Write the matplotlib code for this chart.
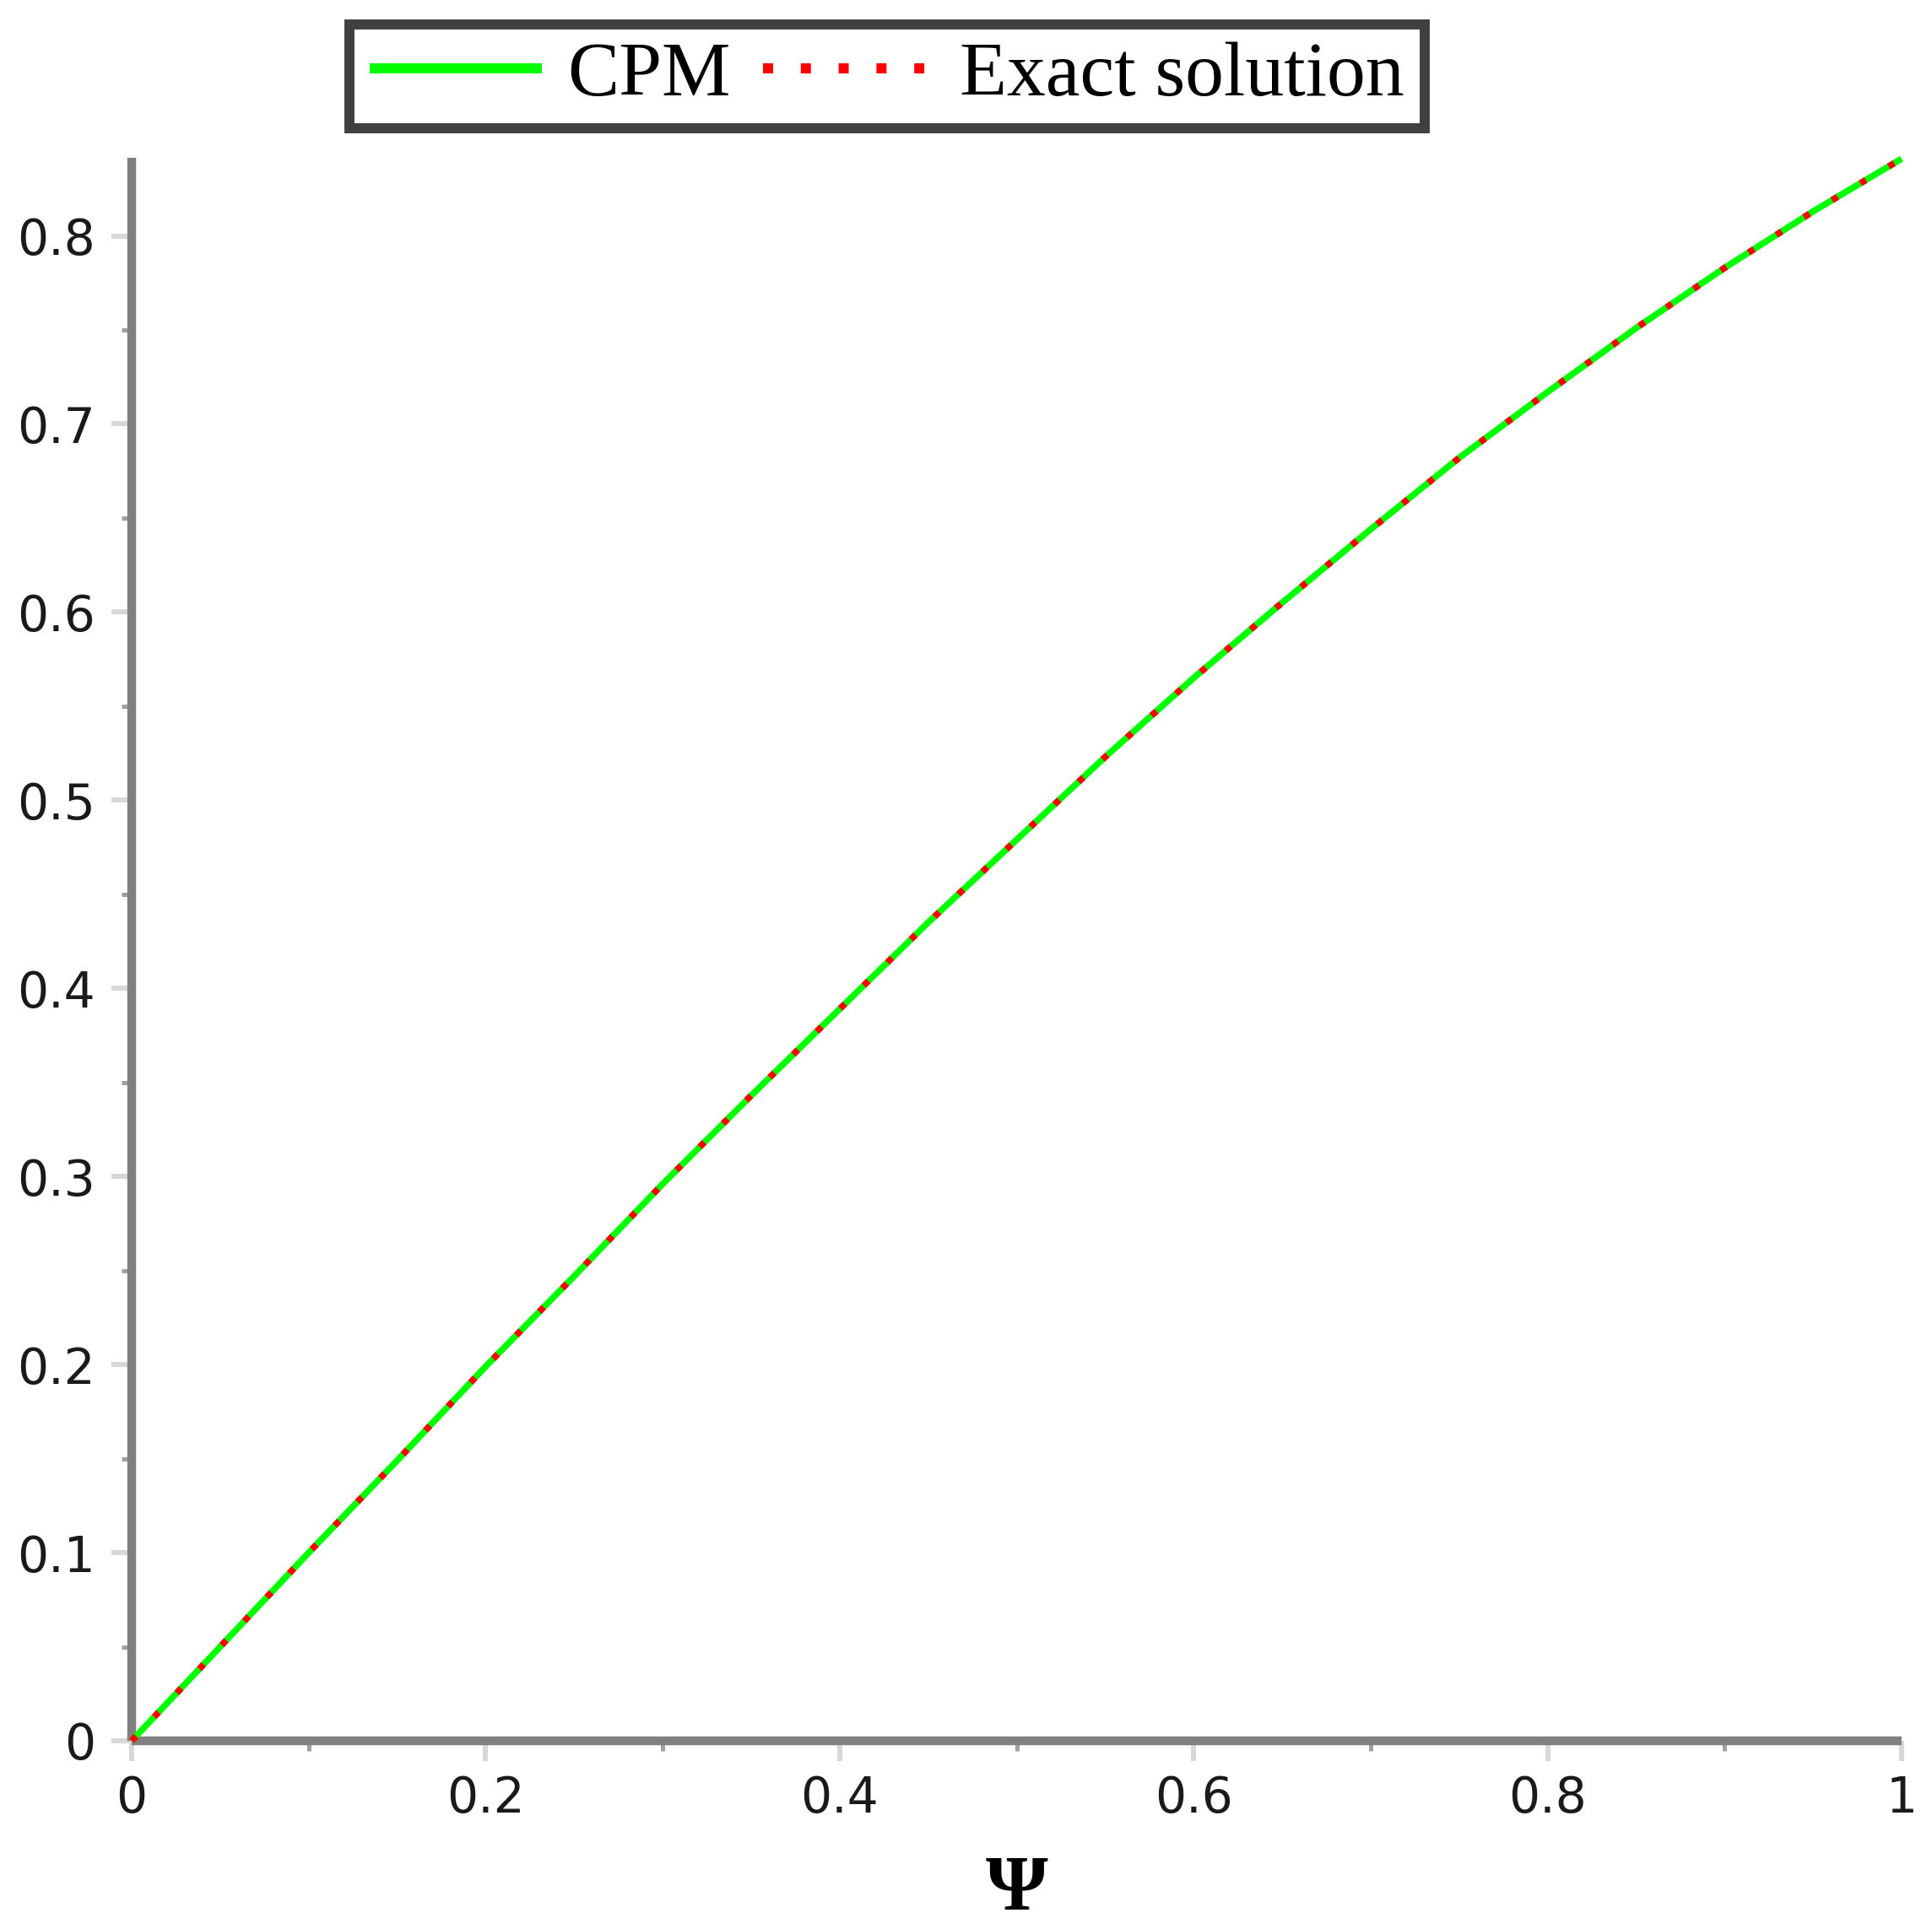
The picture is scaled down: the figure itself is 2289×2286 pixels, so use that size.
import numpy as np
import matplotlib
matplotlib.use("Agg")
import matplotlib.pyplot as plt
from matplotlib.ticker import MultipleLocator

# values (psi from 0 to 1 in steps of 0.05)
psi = [0.0, 0.05, 0.1, 0.15, 0.2, 0.25, 0.3, 0.35, 0.4, 0.45, 0.5,
       0.55, 0.6, 0.65, 0.7, 0.75, 0.8, 0.85, 0.9, 0.95, 1.0]
cpm_vals = [0.0, 0.050, 0.100, 0.149, 0.199, 0.247, 0.296, 0.343, 0.389, 0.435, 0.479,
            0.523, 0.565, 0.605, 0.644, 0.682, 0.717, 0.751, 0.783, 0.813, 0.841]
exact_vals = [0.0, 0.050, 0.100, 0.149, 0.199, 0.247, 0.296, 0.343, 0.389, 0.435, 0.479,
              0.523, 0.565, 0.605, 0.644, 0.682, 0.717, 0.751, 0.783, 0.813, 0.841]

x_ticks = [0, 0.2, 0.4, 0.6, 0.8, 1]
x_ticklabels = ["0", "0.2", "0.4", "0.6", "0.8", "1"]
y_ticks = [0, 0.1, 0.2, 0.3, 0.4, 0.5, 0.6, 0.7, 0.8]
y_ticklabels = ["0", "0.1", "0.2", "0.3", "0.4", "0.5", "0.6", "0.7", "0.8"]

W, H = 2289, 2286
fig = plt.figure(figsize=(W / 100, H / 100), dpi=100)
fig.patch.set_facecolor("white")

# axes box in pixel coords of the reference
x0, x1 = 156, 2253
y_top, y_bot = 187, 2063
ax = fig.add_axes([x0 / W, 1 - y_bot / H, (x1 - x0) / W, (y_bot - y_top) / H])

ax.plot(psi, cpm_vals, color="#00ff00", lw=5.5, label="CPM", clip_on=False, zorder=3,
        solid_capstyle="butt")
ax.plot(psi, exact_vals, color="#ff0000", lw=5.5, linestyle=(0, (1, 4.1)),
        label="Exact solution", clip_on=False, zorder=4, dash_capstyle="butt")

ax.set_xlim(0, 1)
ax.set_ylim(0, 0.8415)

for s in ["top", "right"]:
    ax.spines[s].set_visible(False)
for s in ["left", "bottom"]:
    ax.spines[s].set_color("#808080")
    ax.spines[s].set_linewidth(7.5)
    ax.spines[s].set_capstyle("butt")

ax.set_xticks(x_ticks)
ax.set_xticklabels(x_ticklabels)
ax.set_yticks(y_ticks)
ax.set_yticklabels(y_ticklabels)
ax.xaxis.set_minor_locator(MultipleLocator(0.1))
ax.yaxis.set_minor_locator(MultipleLocator(0.05))

ax.tick_params(axis="both", which="major", direction="out", length=17, width=4.3,
               color="#d8d8d8", labelsize=42, labelcolor="#1a1a1a")
ax.tick_params(axis="x", which="major", pad=12)
ax.tick_params(axis="y", which="major", pad=14)
ax.tick_params(axis="both", which="minor", direction="out", length=8.5, width=3.6,
               color="#a0a0a0")

ax.set_xlabel("Ψ", family="Liberation Serif", fontweight="bold", fontsize=68,
              color="black", labelpad=27)

leg = fig.legend(loc="upper left", bbox_to_anchor=(438 / W, 1 - 49 / H), borderaxespad=0,
                 ncol=2, prop={"family": "Liberation Serif", "size": 66},
                 handlelength=2.22, handletextpad=0.33, columnspacing=0.42,
                 borderpad=0, fancybox=False, frameon=True)
frame = leg.get_frame()
frame.set_edgecolor("#404040")
frame.set_linewidth(8.6)
frame.set_facecolor("white")
frame.set_alpha(1)
leg.legendPatch.set_boxstyle("square", pad=0.26)
leg.legendPatch.set_mutation_aspect(0.82)

lines = leg.get_lines()
lines[0].set_linewidth(8.6)
lines[1].set_linewidth(8.6)
lines[1].set_linestyle((0, (1, 2.75)))

fig.savefig("out.png", dpi=100, facecolor="white")
